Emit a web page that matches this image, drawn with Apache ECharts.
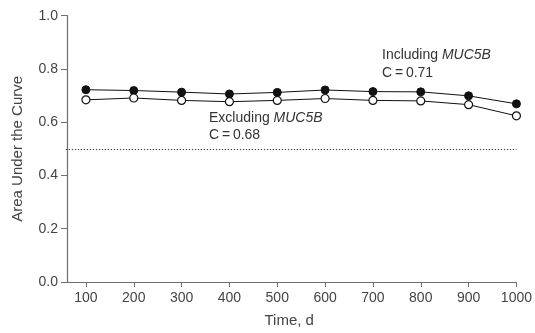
<!DOCTYPE html>
<html>
<head>
<meta charset="utf-8">
<script src="https://cdn.jsdelivr.net/npm/echarts@6/dist/echarts.min.js"></script>
<style>html,body{margin:0;padding:0;background:#fff}#c{width:535px;height:333px}</style>
</head>
<body>
<div id="c"></div>
<script>
var times = [100, 200, 300, 400, 500, 600, 700, 800, 900, 1000];
var including = [0.722, 0.719, 0.713, 0.706, 0.712, 0.721, 0.715, 0.714, 0.699, 0.669];
var excluding = [0.684, 0.691, 0.682, 0.677, 0.682, 0.689, 0.682, 0.680, 0.666, 0.624];
var yTicks = [0, 0.2, 0.4, 0.6, 0.8, 1.0];
var refLine = 0.5;

var FONT = '"Liberation Sans", Arial, sans-serif';
var TXT = '#444';
var AX = '#6e6e6e';

function pairs(xs, ys) { return xs.map(function (x, i) { return [x, ys[i]]; }); }

var chart = echarts.init(document.getElementById('c'), null, { renderer: 'canvas' });
chart.setOption({
  animation: false,
  backgroundColor: '#fff',
  textStyle: { fontFamily: FONT },
  grid: { left: 62, right: 16, top: 15.7, bottom: 50.3, containLabel: false },
  xAxis: {
    type: 'value', min: 50, max: 1000,
    name: 'Time, d', nameLocation: 'middle', nameGap: 31,
    nameTextStyle: { fontSize: 15, color: TXT, fontFamily: FONT },
    axisLine: { lineStyle: { color: AX, width: 1.2 } },
    axisTick: { show: true, length: 5, lineStyle: { color: AX }, customValues: times },
    axisLabel: { fontSize: 14, color: TXT, margin: 9, customValues: times, fontFamily: FONT,
      formatter: function (v) { return String(v); } },
    splitLine: { show: false }
  },
  yAxis: {
    type: 'value', min: 0, max: 1, interval: 0.2, offset: -5,
    name: 'Area Under the Curve', nameLocation: 'middle', nameGap: 42,
    nameTextStyle: { fontSize: 15, color: TXT, fontFamily: FONT },
    axisLine: { show: true, lineStyle: { color: AX, width: 1.2 } },
    axisTick: { show: true, length: 6, lineStyle: { color: AX } },
    axisLabel: { fontSize: 14, color: TXT, margin: 9, fontFamily: FONT,
      customValues: yTicks,
      formatter: function (v) { return v.toFixed(1); } },
    splitLine: { show: false }
  },
  series: [
    {
      type: 'line', data: pairs(times, including),
      symbol: 'circle', symbolSize: 8,
      lineStyle: { color: '#111', width: 1 },
      itemStyle: { color: '#111', borderColor: '#111', borderWidth: 1 },
      z: 3
    },
    {
      type: 'line', data: pairs(times, excluding),
      symbol: 'circle', symbolSize: 8,
      lineStyle: { color: '#111', width: 1 },
      itemStyle: { color: '#fff', borderColor: '#111', borderWidth: 1.2 },
      z: 3,
      markLine: {
        silent: true, symbol: 'none', label: { show: false },
        lineStyle: { color: '#333', type: [1.2, 1.8], width: 1 },
        data: [[{ coord: [58, refLine] }, { coord: [1000, refLine] }]]
      }
    }
  ],
  graphic: [
    {
      type: 'text', left: 382, top: 46,
      style: {
        text: 'Including {i|MUC5B}\nC\u2009=\u20090.71',
        font: '14px ' + FONT, fill: '#333', lineHeight: 18,
        rich: { i: { fontStyle: 'italic', fontSize: 14, fontFamily: FONT, fill: '#333' } }
      }
    },
    {
      type: 'text', left: 209, top: 110,
      style: {
        text: 'Excluding {i|MUC5B}\nC\u2009=\u20090.68',
        font: '14px ' + FONT, fill: '#333', lineHeight: 17,
        rich: { i: { fontStyle: 'italic', fontSize: 14, fontFamily: FONT, fill: '#333' } }
      }
    }
  ]
});
</script>
</body>
</html>
